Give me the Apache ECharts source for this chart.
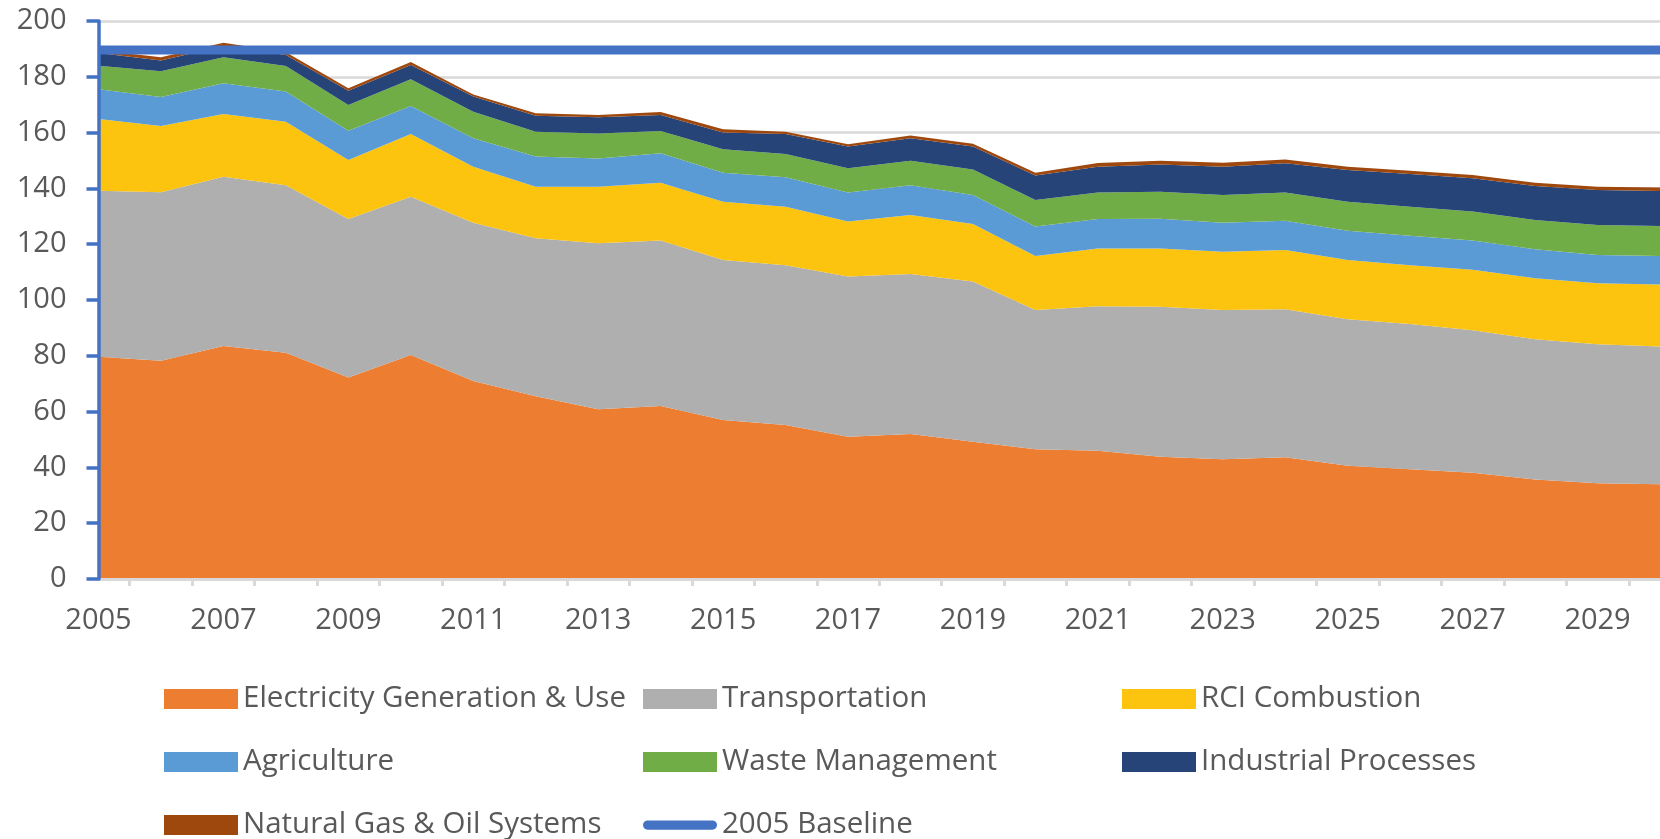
<!DOCTYPE html>
<html>
<head>
<meta charset="utf-8">
<script src="https://cdn.jsdelivr.net/npm/echarts@6/dist/echarts.min.js"></script>
<style>
  html, body { margin: 0; padding: 0; background: #fff; }
  #chart { width: 1660px; height: 839px; }
</style>
</head>
<body>
<div id="chart"></div>
<script>
// emissions by sector, 2005-2030
const years = [2005, 2006, 2007, 2008, 2009, 2010, 2011, 2012, 2013, 2014, 2015, 2016, 2017,
  2018, 2019, 2020, 2021, 2022, 2023, 2024, 2025, 2026, 2027, 2028, 2029, 2030]

const electricity = [79.7, 78.2, 83.5, 81.1, 72.2, 80.3, 71.0, 65.5, 60.8, 62.0, 57.0, 55.2, 51.0,
  52.0, 49.2, 46.5, 46.0, 43.8, 42.9, 43.6, 40.6, 39.3, 38.1, 35.7, 34.3, 34.0]
const transportation = [59.5, 60.4, 60.7, 60.0, 56.8, 56.7, 56.7, 56.6, 59.5, 59.3, 57.3, 57.3, 57.4,
  57.3, 57.4, 49.9, 51.8, 53.8, 53.5, 53.1, 52.5, 52.1, 51.1, 50.2, 49.8, 49.3]
const rciCombustion = [25.7, 23.8, 22.5, 22.8, 21.2, 22.5, 20.1, 18.5, 20.3, 20.7, 20.9, 20.9, 19.7,
  21.2, 20.6, 19.4, 20.7, 20.9, 20.9, 21.2, 21.2, 21.1, 21.6, 21.9, 21.9, 22.3]
const agriculture = [10.6, 10.4, 11.0, 10.8, 10.5, 10.0, 10.2, 10.8, 10.1, 10.6, 10.4, 10.6, 10.4,
  10.6, 10.4, 10.5, 10.5, 10.6, 10.4, 10.5, 10.5, 10.5, 10.5, 10.4, 10.1, 10.2]
const wasteManagement = [8.5, 9.2, 9.3, 9.2, 9.2, 9.6, 9.5, 8.9, 9.0, 8.0, 8.4, 8.3, 8.7,
  8.8, 9.2, 9.5, 9.5, 9.7, 9.9, 10.1, 10.4, 10.4, 10.4, 10.5, 10.8, 10.7]
const industrial = [4.5, 3.8, 4.0, 3.9, 5.1, 5.1, 5.4, 5.7, 5.8, 5.7, 6.0, 7.2, 7.8,
  8.1, 8.2, 8.8, 9.3, 9.8, 10.2, 10.5, 11.4, 11.8, 11.9, 12.2, 12.5, 12.6]
const naturalGas = [1.0, 1.2, 1.2, 1.0, 0.9, 1.1, 0.8, 0.9, 0.8, 1.1, 1.2, 0.8, 0.8,
  1.0, 1.0, 1.0, 1.3, 1.3, 1.4, 1.4, 1.2, 1.1, 1.2, 1.1, 1.2, 1.2]
const baseline2005 = 189.6

const FONT = 'Open Sans'
const TEXT = '#595959'
const GRID_GRAY = '#D9D9D9'
const AXIS_BLUE = '#4472C4'

const sectors = [
  { name: 'Electricity Generation & Use', values: electricity, color: '#ED7D31' },
  { name: 'Transportation', values: transportation, color: '#AFAFAF' },
  { name: 'RCI Combustion', values: rciCombustion, color: '#FCC30F' },
  { name: 'Agriculture', values: agriculture, color: '#5B9BD5' },
  { name: 'Waste Management', values: wasteManagement, color: '#70AD47' },
  { name: 'Industrial Processes', values: industrial, color: '#264478' },
  { name: 'Natural Gas & Oil Systems', values: naturalGas, color: '#9E480E' },
]

const chart = echarts.init(document.getElementById('chart'))

const rectItem = (name) => ({ name, icon: 'rect' })
const legendBase = {
  orient: 'vertical',
  top: 684,
  height: 300,
  padding: 0,
  itemWidth: 74,
  itemHeight: 20,
  itemGap: 33,
  selectedMode: false,
  textStyle: { fontFamily: FONT, fontSize: 29.5, color: TEXT, lineHeight: 30 },
}

chart.setOption({
  animation: false,
  grid: { left: 98.5, right: -12, top: 21, bottom: 260 },
  legend: [
    { ...legendBase, left: 164,
      data: [rectItem(sectors[0].name), rectItem(sectors[3].name), rectItem(sectors[6].name)] },
    { ...legendBase, left: 643,
      data: [rectItem(sectors[1].name), rectItem(sectors[4].name),
        { name: '2005 Baseline', icon: 'path://M5 0 L75 0 A5 5 0 0 1 75 10 L5 10 A5 5 0 0 1 5 0 Z',
          itemStyle: { borderWidth: 0 } }] },
    { ...legendBase, left: 1122,
      data: [rectItem(sectors[2].name), rectItem(sectors[5].name)] },
  ],
  xAxis: [
    {
      type: 'category',
      data: years,
      boundaryGap: false,
      position: 'bottom',
      z: 4,
      axisLine: { show: true, lineStyle: { color: GRID_GRAY, width: 3 } },
      axisTick: { show: false },
      axisLabel: { interval: 1, fontFamily: FONT, fontSize: 29, color: TEXT, margin: 27 },
      splitLine: { show: false },
    },
    {
      // ticks sit half way between the years
      type: 'value',
      min: years[0],
      max: years[years.length - 1],
      position: 'bottom',
      z: 4,
      axisLine: { show: false },
      axisTick: {
        show: true, length: 7, lineStyle: { color: GRID_GRAY, width: 3 },
        customValues: years.slice(0, -1).map((y) => y + 0.5),
      },
      axisLabel: { show: false },
      splitLine: { show: false },
    },
  ],
  yAxis: [
    {
      type: 'value', min: 0, max: 200, interval: 20, position: 'left', z: 5,
      axisLine: { show: true, lineStyle: { color: AXIS_BLUE, width: 3.5 } },
      axisTick: { show: true, length: 12, lineStyle: { color: AXIS_BLUE, width: 3.5 } },
      axisLabel: { fontFamily: FONT, fontSize: 29, color: TEXT, margin: 32 },
      splitLine: { show: false },
    },
    {
      type: 'value', min: 0, max: 200, interval: 20, position: 'right',
      axisLine: { show: false }, axisTick: { show: false }, axisLabel: { show: false },
      splitLine: { show: true, lineStyle: { color: GRID_GRAY, width: 2.5 } },
    },
  ],
  series: [
    ...sectors.map((s) => ({
      name: s.name,
      type: 'line',
      stack: 'total',
      data: s.values,
      color: s.color,
      symbol: 'none',
      lineStyle: { width: 0 },
      areaStyle: { color: s.color, opacity: 1 },
      z: 2,
    })),
    {
      name: '2005 Baseline',
      type: 'line',
      data: years.map(() => baseline2005),
      color: AXIS_BLUE,
      symbol: 'none',
      lineStyle: { color: AXIS_BLUE, width: 9 },
      z: 3,
    },
  ],
})
</script>
</body>
</html>
